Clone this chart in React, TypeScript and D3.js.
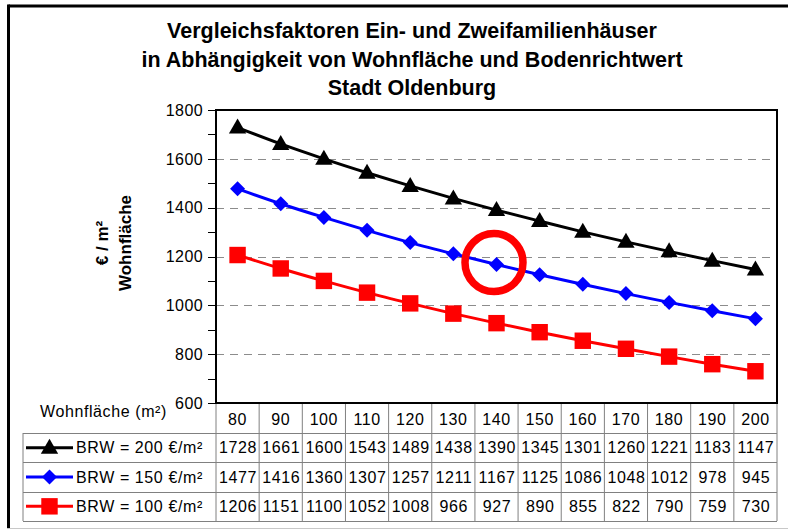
import React from 'react';
import * as d3 from 'd3';

const areas: number[] = [80, 90, 100, 110, 120, 130, 140, 150, 160, 170, 180, 190, 200];
const brw200: number[] = [1728, 1661, 1600, 1543, 1489, 1438, 1390, 1345, 1301, 1260, 1221, 1183, 1147];
const brw150: number[] = [1477, 1416, 1360, 1307, 1257, 1211, 1167, 1125, 1086, 1048, 1012, 978, 945];
const brw100: number[] = [1206, 1151, 1100, 1052, 1008, 966, 927, 890, 855, 822, 790, 759, 730];
const seriesNames: string[] = ['BRW = 200 €/m²', 'BRW = 150 €/m²', 'BRW = 100 €/m²'];
const seriesColors: string[] = ['#000000', '#0000ff', '#ff0000'];
const seriesMarkers: string[] = ['triangle', 'diamond', 'square'];
const yMajorTicks: number[] = [600, 800, 1000, 1200, 1400, 1600, 1800];
const yMinorTicks: number[] = [700, 900, 1100, 1300, 1500, 1700];
const titleLines: string[] = [
  'Vergleichsfaktoren Ein- und Zweifamilienhäuser',
  'in Abhängigkeit von Wohnfläche und Bodenrichtwert',
  'Stadt Oldenburg',
];
const yLabelLines: string[] = ['€ / m²', 'Wohnfläche'];
const xLabel = 'Wohnfläche (m²)';
const highlightArea = 140;

const W = 788;
const H = 530;
const plotL = 216;
const plotR = 777;
const plotT = 110;
const plotB = 403;
const headerBottom = 433;
const tableBottom = 521;
const legendL = 23;
const FONT = 'Liberation Sans, Arial, sans-serif';

function Marker({ type, cx, cy, color }: { type: string; cx: number; cy: number; color: string }) {
  if (type === 'triangle') {
    const p = d3.symbol(d3.symbolTriangle, 130)();
    return <path d={p || ''} transform={`translate(${cx},${cy + 1})`} fill={color} />;
  }
  if (type === 'diamond') {
    const r = 7.5;
    return <path d={`M${cx},${cy - r}L${cx + r},${cy}L${cx},${cy + r}L${cx - r},${cy}Z`} fill={color} />;
  }
  const p = d3.symbol(d3.symbolSquare, 270)();
  return <path d={p || ''} transform={`translate(${cx},${cy})`} fill={color} />;
}

export default function App() {
  const x = d3.scaleBand<string>().domain(areas.map(String)).range([plotL, plotR]);
  const y = d3.scaleLinear().domain([600, 1800]).range([plotB, plotT]);
  const bw = x.bandwidth();
  const cx = (a: number) => (x(String(a)) as number) + bw / 2;
  const series = [brw200, brw150, brw100];
  const line = d3
    .line<number>()
    .x((_, i) => cx(areas[i]))
    .y((d) => y(d))
    .curve(d3.curveMonotoneX);

  const rowH = (tableBottom - headerBottom) / 3;
  const rowTop = (i: number) => headerBottom + i * rowH;

  const hi = areas.indexOf(highlightArea);
  const hx = cx(highlightArea) - 2.5;
  const hy = y(brw150[hi]) - 2;

  return (
    <svg
      width={W}
      height={H}
      style={{ position: 'absolute', left: 0, top: 0, background: '#fff' }}
      fontFamily={FONT}
    >
      <rect x={0} y={0} width={W} height={H} fill="#fff" />
      {/* outer frame */}
      <line x1={8.5} y1={6} x2={W} y2={6} stroke="#000" strokeWidth={3} />
      <line x1={8.5} y1={4.5} x2={8.5} y2={528} stroke="#000" strokeWidth={3} />
      <line x1={7} y1={528.5} x2={W} y2={528.5} stroke="#c8c8c8" strokeWidth={1} />

      {/* title */}
      {titleLines.map((t, i) => (
        <text
          key={t}
          x={412}
          y={38 + i * 28.5}
          textAnchor="middle"
          fontSize={21.5}
          fontWeight="bold"
          fill="#000"
        >
          {t}
        </text>
      ))}

      {/* gridlines */}
      {yMajorTicks
        .filter((v) => v > 600 && v < 1800)
        .map((v) => (
          <line
            key={'g' + v}
            x1={plotL}
            x2={plotR}
            y1={Math.round(y(v)) + 0.5}
            y2={Math.round(y(v)) + 0.5}
            stroke="#8c8c8c"
            strokeWidth={1}
            strokeDasharray="8,6"
          />
        ))}

      {/* y ticks */}
      {yMajorTicks.concat(yMinorTicks).map((v) => (
        <line
          key={'t' + v}
          x1={208}
          x2={plotL}
          y1={Math.round(y(v)) + 0.5}
          y2={Math.round(y(v)) + 0.5}
          stroke="#000"
          strokeWidth={1}
        />
      ))}
      {yMajorTicks.map((v) => (
        <text
          key={'l' + v}
          x={203}
          y={y(v)}
          dy="0.36em"
          textAnchor="end"
          fontSize={16}
          letterSpacing={0.4}
          fill="#000"
        >
          {v}
        </text>
      ))}

      {/* y label */}
      {yLabelLines.map((t, i) => (
        <text
          key={t}
          transform={`translate(${102 + i * 23},${243}) rotate(-90)`}
          textAnchor="middle"
          dy="0.35em"
          fontSize={17}
          fontWeight="bold"
          fill="#000"
        >
          {t}
        </text>
      ))}

      {/* table lines */}
      {areas.map((a) => (
        <line
          key={'v' + a}
          x1={(x(String(a)) as number) + bw}
          x2={(x(String(a)) as number) + bw}
          y1={plotB}
          y2={tableBottom}
          stroke="#808080"
          strokeWidth={1}
        />
      ))}
      <line x1={plotL} x2={plotL} y1={plotB} y2={tableBottom} stroke="#808080" strokeWidth={1} />
      <line x1={legendL} x2={legendL} y1={headerBottom} y2={tableBottom} stroke="#808080" strokeWidth={1} />
      {[0, 1, 2, 3].map((i) => (
        <line
          key={'h' + i}
          x1={legendL}
          x2={plotR}
          y1={Math.round(rowTop(i)) + 0.5}
          y2={Math.round(rowTop(i)) + 0.5}
          stroke="#808080"
          strokeWidth={1}
        />
      ))}

      {/* header row */}
      <text x={40} y={411} dy="0.36em" fontSize={16} letterSpacing={0.6} fill="#000">
        {xLabel}
      </text>
      {areas.map((a) => (
        <text
          key={'a' + a}
          x={cx(a)}
          y={(plotB + headerBottom) / 2 + 1}
          dy="0.36em"
          textAnchor="middle"
          fontSize={16}
          letterSpacing={0.6}
          fill="#000"
        >
          {a}
        </text>
      ))}

      {/* data rows + legend */}
      {series.map((s, si) => {
        const cy = rowTop(si) + rowH / 2;
        return (
          <g key={'r' + si}>
            <line x1={26} x2={73} y1={cy} y2={cy} stroke={seriesColors[si]} strokeWidth={3} />
            <Marker type={seriesMarkers[si]} cx={49.5} cy={cy} color={seriesColors[si]} />
            <text x={76} y={cy} dy="0.36em" fontSize={16} letterSpacing={0.6} fill="#000">
              {seriesNames[si]}
            </text>
            {s.map((v, i) => (
              <text
                key={i}
                x={cx(areas[i]) + 0.5}
                y={cy}
                dy="0.36em"
                textAnchor="middle"
                fontSize={16}
                letterSpacing={0.6}
                fill="#000"
              >
                {v}
              </text>
            ))}
          </g>
        );
      })}

      {/* series */}
      {series.map((s, si) => (
        <g key={'s' + si}>
          <path d={line(s) || ''} fill="none" stroke={seriesColors[si]} strokeWidth={3} />
          {s.map((v, i) => (
            <Marker key={i} type={seriesMarkers[si]} cx={cx(areas[i])} cy={y(v)} color={seriesColors[si]} />
          ))}
        </g>
      ))}

      {/* plot border */}
      <rect
        x={plotL}
        y={plotT}
        width={plotR - plotL}
        height={plotB - plotT}
        fill="none"
        stroke="#000"
        strokeWidth={2}
      />

      {/* highlight circle */}
      <circle cx={hx} cy={hy} r={29} fill="none" stroke="#ff0000" strokeWidth={7.5} />
    </svg>
  );
}
